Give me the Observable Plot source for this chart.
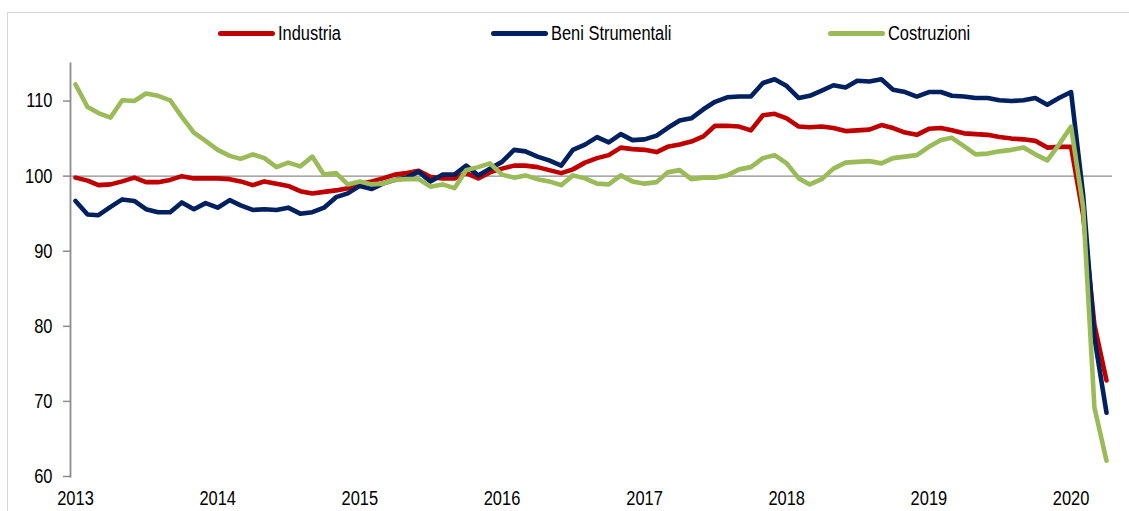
<!DOCTYPE html>
<html>
<head>
<meta charset="utf-8">
<script src="https://cdn.jsdelivr.net/npm/d3@7"></script>
<script src="https://cdn.jsdelivr.net/npm/@observablehq/plot@0.6"></script>
<style>
  html, body { margin: 0; padding: 0; background: #fff; overflow: hidden; }
  #wrap { position: relative; width: 1129px; height: 511px; font-family: "Liberation Sans Narrow", "Arial Narrow", "Liberation Sans", Arial, sans-serif; }
  #border { position: absolute; left: 7px; top: 12px; width: 1200px; height: 600px; border: 1px solid #d6d6d6; box-sizing: border-box; }
  #legend { position: relative; height: 52px; }
  .item { position: absolute; top: 22px; display: flex; align-items: center; font-size: 20px; color: #000; white-space: nowrap; }
  .sw { width: 57px; height: 5px; border-radius: 3px; margin-right: 3px; flex: none; }
  .tx { display: inline-block; transform-origin: 0 50%; }
  #chart { position: relative; }
</style>
</head>
<body>
<div id="wrap">
  <div id="border"></div>
  <div id="legend"></div>
  <div id="chart"></div>
</div>
<script>
const seriesNames = ["Industria", "Beni Strumentali", "Costruzioni"];
const seriesColors = ["#C00000", "#002060", "#9BBB59"];
const startMonth = "2013-01";
const yTicks = [60, 70, 80, 90, 100, 110];
const yearLabels = [2013, 2014, 2015, 2016, 2017, 2018, 2019, 2020];

const industria = [
  99.8, 99.4, 98.8, 98.9, 99.3, 99.8, 99.2, 99.2, 99.5, 100.0, 99.7, 99.7,
  99.7, 99.6, 99.3, 98.8, 99.3, 99.0, 98.7, 98.0, 97.7, 97.9, 98.1, 98.4,
  99.0, 99.3, 99.7, 100.2, 100.4, 100.7, 99.9, 99.7, 99.7, 100.4, 99.7, 100.5,
  101.0, 101.4, 101.4, 101.2, 100.8, 100.4, 100.9, 101.8, 102.4, 102.8, 103.8, 103.6,
  103.5, 103.2, 103.9, 104.2, 104.6, 105.3, 106.7, 106.7, 106.6, 106.1, 108.1, 108.3,
  107.7, 106.6, 106.5, 106.6, 106.4, 106.0, 106.1, 106.2, 106.8, 106.4, 105.8, 105.5,
  106.3, 106.4, 106.1, 105.7, 105.6, 105.5, 105.2, 105.0, 104.9, 104.7, 103.8, 103.9,
  103.9, 94.8, 80.2, 72.8
];
const beniStrumentali = [
  96.7, 94.9, 94.8, 95.9, 96.9, 96.7, 95.6, 95.2, 95.2, 96.5, 95.6, 96.4,
  95.8, 96.8, 96.1, 95.5, 95.6, 95.5, 95.8, 95.0, 95.2, 95.8, 97.2, 97.7,
  98.7, 98.3, 99.0, 99.5, 99.8, 100.6, 99.3, 100.2, 100.2, 101.4, 100.1, 101.0,
  101.9, 103.5, 103.3, 102.6, 102.1, 101.4, 103.5, 104.2, 105.2, 104.5, 105.6, 104.8,
  104.9, 105.4, 106.4, 107.4, 107.7, 108.9, 109.9, 110.5, 110.6, 110.6, 112.4, 112.9,
  112.0, 110.4, 110.7, 111.4, 112.1, 111.8, 112.7, 112.6, 112.9, 111.5, 111.2, 110.6,
  111.2, 111.2, 110.7, 110.6, 110.4, 110.4, 110.1, 110.0, 110.1, 110.4, 109.5, 110.4,
  111.2, 97.5, 78.5, 68.5
];
const costruzioni = [
  112.2, 109.2, 108.4, 107.8, 110.1, 110.0, 111.0, 110.7, 110.1, 107.9, 105.8, 104.7,
  103.5, 102.7, 102.3, 102.9, 102.4, 101.2, 101.8, 101.3, 102.6, 100.2, 100.4, 98.9,
  99.3, 98.9, 99.0, 99.5, 99.6, 99.6, 98.6, 98.9, 98.4, 100.8, 101.2, 101.7,
  100.2, 99.8, 100.1, 99.6, 99.3, 98.8, 100.1, 99.7, 99.0, 98.9, 100.1, 99.3,
  99.0, 99.2, 100.5, 100.8, 99.6, 99.8, 99.8, 100.1, 100.9, 101.2, 102.4, 102.8,
  101.7, 99.7, 98.9, 99.6, 101.0, 101.8, 101.9, 102.0, 101.7, 102.4, 102.6, 102.8,
  103.9, 104.8, 105.1, 104.0, 102.9, 103.0, 103.3, 103.5, 103.8, 102.9, 102.1, 104.2,
  106.6, 95.9, 69.2, 62.1
];

const seriesValues = [industria, beniStrumentali, costruzioni];
const start = d3.utcParse("%Y-%m")(startMonth);
const months = industria.map((_, i) => d3.utcMonth.offset(start, i));

const data = seriesNames.flatMap((name, s) =>
  seriesValues[s].map((v, i) => ({series: name, date: months[i], value: v}))
);

const fontFamily = '"Liberation Sans Narrow", "Arial Narrow", "Liberation Sans", Arial, sans-serif';

// Detect whether a narrow face is really available; if not, condense the text.
const ctx = document.createElement("canvas").getContext("2d");
ctx.font = "20px " + fontFamily;
const measured = ctx.measureText("Industria").width;
const squeeze = measured > 68 ? 63 / measured : 1;

// Legend
const legend = document.getElementById("legend");
const legendLeft = [218, 491, 828];
seriesNames.forEach((name, i) => {
  const it = document.createElement("div");
  it.className = "item";
  it.style.left = legendLeft[i] + "px";
  const sw = document.createElement("span");
  sw.className = "sw";
  sw.style.background = seriesColors[i];
  const tx = document.createElement("span");
  tx.className = "tx";
  tx.textContent = name;
  if (squeeze !== 1) tx.style.transform = `scaleX(${squeeze})`;
  it.appendChild(sw);
  it.appendChild(tx);
  legend.appendChild(it);
});

const chart = Plot.plot({
  width: 1129,
  height: 459,
  marginTop: 11,
  marginBottom: 35,
  marginLeft: 70,
  marginRight: 17,
  style: {fontFamily, fontSize: "20px", color: "#000", background: "transparent", overflow: "visible"},
  x: {type: "utc", domain: [months[0], months[months.length - 1]], insetLeft: 5, insetRight: 6},
  y: {domain: [60, 115]},
  color: {domain: seriesNames, range: seriesColors},
  marks: [
    Plot.ruleY([100], {stroke: "#8c8c8c", strokeWidth: 1.3}),
    Plot.axisY({ticks: yTicks, tickSize: 7, tickPadding: 11, label: null, stroke: "#8c8c8c", fill: "#000", strokeWidth: 1.5}),
    Plot.frame({anchor: "left", stroke: "#8c8c8c", strokeWidth: 1.8}),
    Plot.axisX({ticks: yearLabels.map(y => new Date(Date.UTC(y, 0, 1))), tickSize: 0, tickPadding: 14, tickFormat: d3.utcFormat("%Y"), label: null, fill: "#000"}),
    Plot.line(data, {x: "date", y: "value", z: "series", stroke: "series", strokeWidth: 4.6, strokeLinejoin: "round", strokeLinecap: "round"})
  ]
});
document.getElementById("chart").appendChild(chart);

if (squeeze !== 1) {
  chart.querySelectorAll("text").forEach(t => {
    const w = t.getComputedTextLength();
    if (w > 0) {
      t.setAttribute("textLength", (w * squeeze).toFixed(2));
      t.setAttribute("lengthAdjust", "spacingAndGlyphs");
    }
  });
}
</script>
</body>
</html>
